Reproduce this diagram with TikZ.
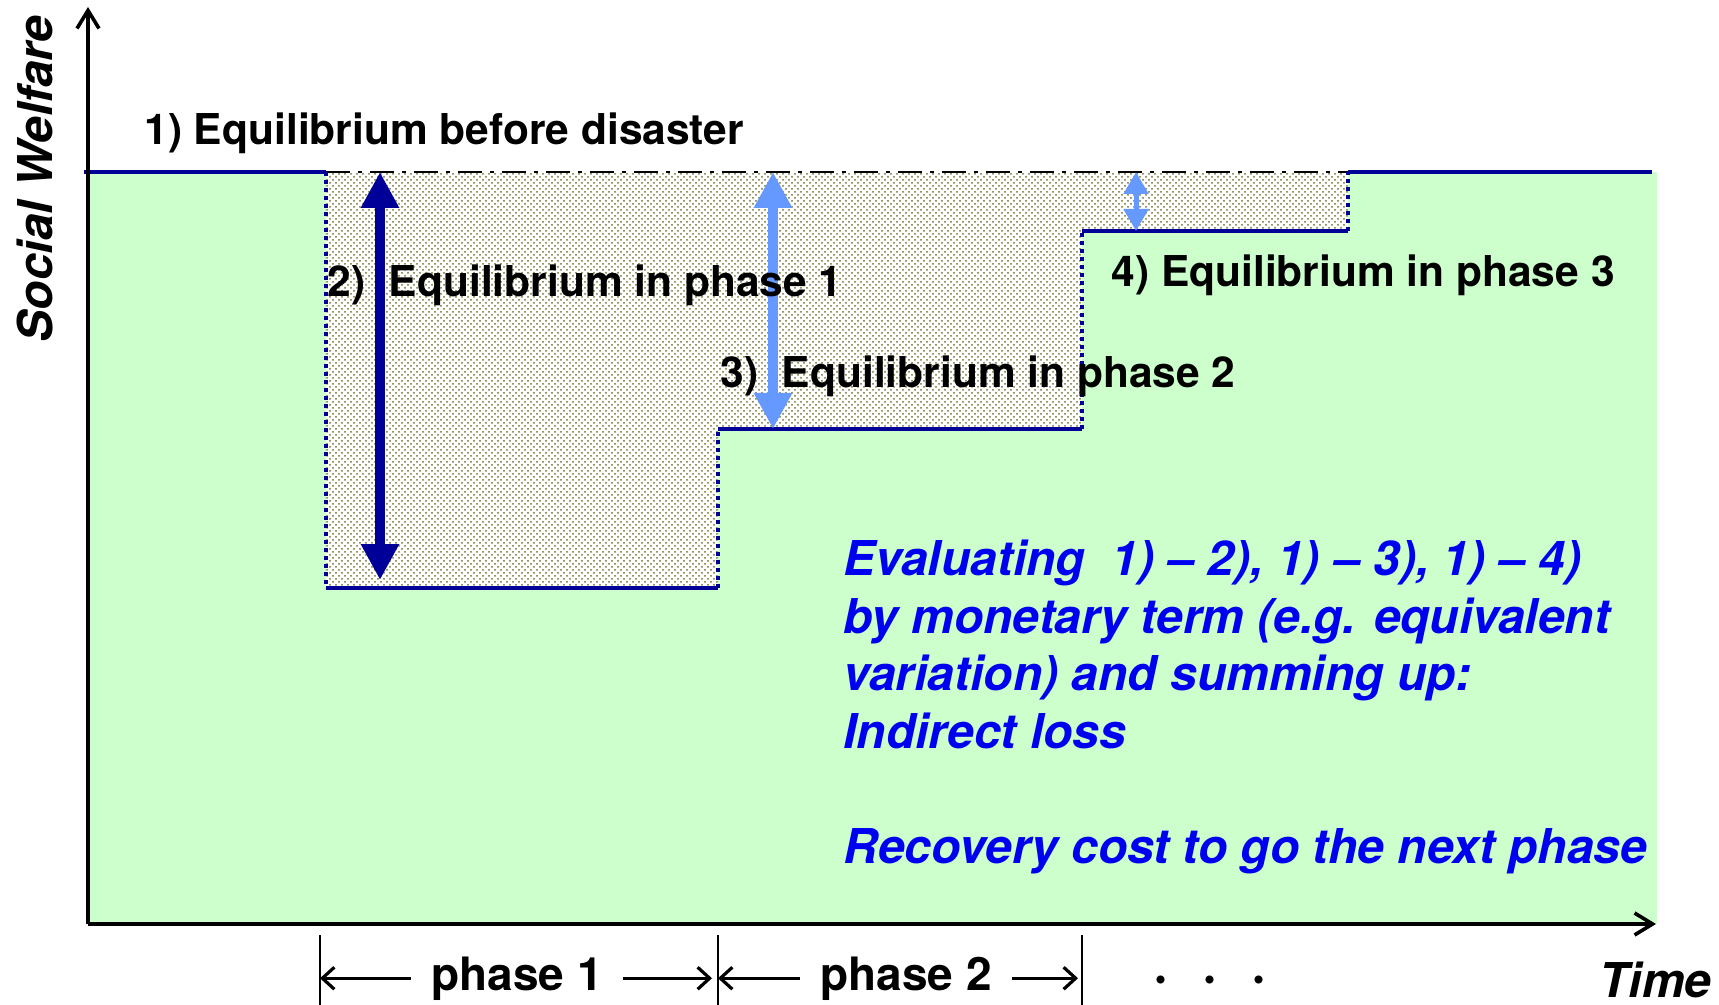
\documentclass[tikz,border=0pt]{standalone}
\usepackage{fontspec}
\setmainfont{TeX Gyre Heros}
\usepackage{tikz}
\usetikzlibrary{arrows.meta,patterns,positioning}
\usepackage{xcolor}

\definecolor{welfaregreen}{RGB}{204,255,204}
\definecolor{levelnavy}{RGB}{0,0,153}
\definecolor{gapblue}{RGB}{102,153,255}
\definecolor{noteblue}{RGB}{0,0,240}
\definecolor{dotolive}{RGB}{112,112,48}

\begin{document}
\begin{tikzpicture}[x=0.5pt, y=-0.5pt,
    level/.style={draw=levelnavy, line width=2pt},
    boundary/.style={draw=levelnavy, line width=2.2pt, dash pattern=on 2pt off 2pt},
    axis/.style={line width=1.8pt, -{Straight Barb[length=9pt,width=11pt]}},
    biggap/.style={line width=5pt, {Triangle[length=18pt,width=18pt]}-{Triangle[length=18pt,width=18pt]}},
    smallgap/.style={line width=2.5pt, {Triangle[length=11pt,width=12pt]}-{Triangle[length=11pt,width=12pt]}},
    span/.style={line width=1.6pt, -{Straight Barb[length=6pt,width=11pt]}},
    bar/.style={line width=1.4pt},
    eqlabel/.style={font=\fontsize{21.25}{25}\selectfont\bfseries, anchor=base west, inner sep=0pt},
    axislabel/.style={font=\fontsize{24}{28}\selectfont\bfseries\itshape, inner sep=0pt},
    phaselabel/.style={font=\fontsize{23}{27}\selectfont\bfseries, anchor=base, inner ysep=0pt, inner xsep=10pt},
    note/.style={font=\fontsize{24}{28.75}\selectfont\bfseries\itshape, text=noteblue, align=left, anchor=north west, inner sep=0pt}
]
\useasboundingbox (0,0) rectangle (1719,1005);

% Welfare area and loss area
\fill[welfaregreen] (88,172) rectangle (1657,924);
\fill[white, postaction={pattern=crosshatch dots, pattern color=dotolive}]
    (326,172) -- (1348,172) -- (1348,231) -- (1082,231) -- (1082,429)
    -- (718,429) -- (718,588) -- (326,588) -- cycle;

% Welfare before disaster
\draw[line width=1.3pt, dash pattern=on 12pt off 4pt on 2pt off 4pt] (326,172) -- (1348,172);
\draw[level] (84,172) -- (326,172);
\draw[level] (1348,172) -- (1652,172);

% Welfare in each phase
\draw[boundary] (326,172) -- (326,588);
\draw[level] (326,588) -- (718,588);
\draw[boundary] (718,588) -- (718,429);
\draw[level] (718,429) -- (1082,429);
\draw[boundary] (1082,429) -- (1082,231);
\draw[level] (1082,231) -- (1348,231);
\draw[boundary] (1348,231) -- (1348,172);

% Axes
\coordinate (origin) at (88,924);
\coordinate (ytop) at (88,7);
\coordinate (xend) at (1656,924);
\draw[axis] (origin) -- (ytop);
\draw[axis] (origin) -- (xend);

% Losses
\coordinate (loss1top) at (380,172);
\coordinate (loss1low) at (380,580);
\coordinate (loss2top) at (773,172);
\coordinate (loss2low) at (773,429);
\coordinate (loss3top) at (1136,172);
\coordinate (loss3low) at (1136,231);
\draw[biggap, levelnavy] (loss1top) -- (loss1low);
\draw[biggap, gapblue] (loss2top) -- (loss2low);
\draw[smallgap, gapblue] (loss3top) -- (loss3low);

% Equilibrium labels
\node[eqlabel] (eq1) at (144,145) {1) Equilibrium before disaster};
\node[eqlabel] (eq2) at (327,297) {2)~~Equilibrium in phase 1};
\node[eqlabel] (eq3) at (720,388) {3)~~Equilibrium in phase 2};
\node[eqlabel] (eq4) at (1111,287) {4) Equilibrium in phase 3};

% Note
\node[note] (eval) at (843,540) {Evaluating~~1) -- 2), 1) -- 3), 1) -- 4)\\
    by monetary term (e.g. equivalent\\
    variation) and summing up:\\
    Indirect loss\\[28.75pt]
    Recovery cost to go the next phase};

% Axis labels
\node[axislabel, rotate=90] (welfare) at (35,179) {Social Welfare};
\node[axislabel, anchor=base west] (time) at (1599,997) {Time};

% Phases
\coordinate (bar1) at (320,935);
\coordinate (bar2) at (718,935);
\coordinate (bar3) at (1082,935);
\draw[bar] (bar1) -- ++(0,70);
\draw[bar] (bar2) -- ++(0,70);
\draw[bar] (bar3) -- ++(0,70);
\node[phaselabel] (phase1) at (517,990) {phase 1};
\node[phaselabel] (phase2) at (906,990) {phase 2};
\draw[span] (phase1.west) -- (phase1.west -| bar1);
\draw[span, shorten >=3pt] (phase1.east) -- (phase1.east -| bar2);
\draw[span] (phase2.west) -- (phase2.west -| bar2);
\draw[span, shorten >=2pt] (phase2.east) -- (phase2.east -| bar3);
\node[font=\fontsize{27}{27}\selectfont\bfseries, anchor=base, inner sep=0pt] (more) at (1210,993)
    {·\hspace{17pt}·\hspace{17pt}·};

\end{tikzpicture}
\end{document}
